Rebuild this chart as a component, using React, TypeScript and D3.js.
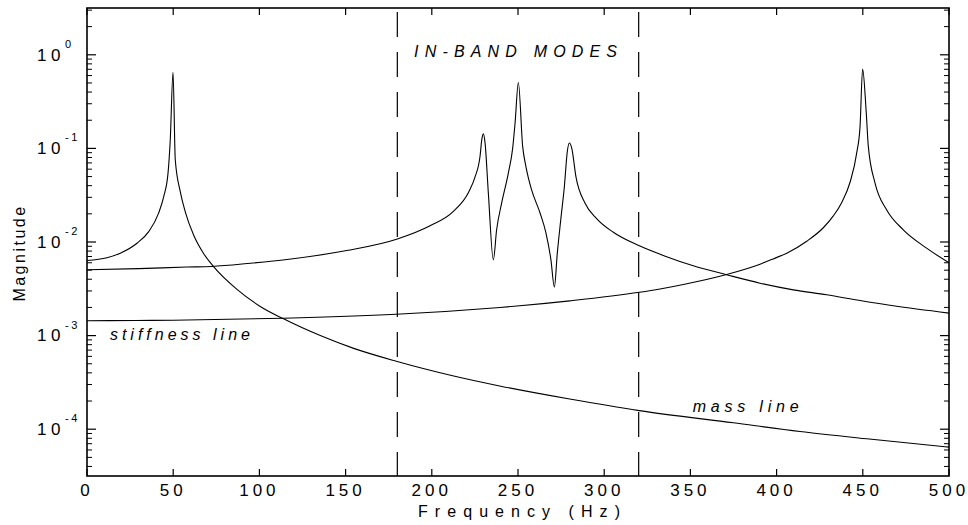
import React from "react";
import * as d3 from "d3";

// ---------- data ----------
const xTickValues = [0, 50, 100, 150, 200, 250, 300, 350, 400, 450, 500];
const yDecadeExponents = [0, -1, -2, -3, -4];
const bandEdges = [180, 320];

// mode at 50 Hz, its tail above resonance is the "mass line"
const mode50Freq = [0, 11.6, 19.3, 29, 35.8, 41.6, 44.5, 47, 48.3, 49.9, 51.2, 54.1, 57, 61.9, 67.7, 73.3, 87, 100.5, 114, 135.3, 154.7, 179.4, 212.7, 240, 280, 320.4, 374.9, 413.6, 452.3, 500];
const mode50Mag = [0.00634, 0.0068, 0.0076, 0.0097, 0.0129, 0.0205, 0.0306, 0.0544, 0.124, 0.65, 0.0755, 0.0345, 0.021, 0.0118, 0.0075, 0.0055, 0.00312, 0.00205, 0.00151, 0.001, 0.00073, 0.000532, 0.00037, 0.000288, 0.00021, 0.000158, 0.000117, 0.0000945, 0.000079, 0.0000644];

// in-band response (modes at ~230, 250, 280 Hz)
const inBandFreq = [0, 30, 58, 72.3, 95, 116, 150.6, 179.6, 199, 212.5, 221.5, 225, 228, 229, 229.9, 230.9, 232.8, 235.7, 237.6, 240.5, 244.4, 246.9, 248.3, 250.2, 252.7, 254.6, 257.9, 262.8, 266.2, 269.1, 271.1, 272.8, 274.8, 276.9, 278.6, 279.8, 281.2, 283.6, 288.9, 295.6, 305.3, 320.4, 335, 351.7, 371, 390.4, 409.7, 429, 448.4, 467.7, 500];
const inBandMag = [0.00505, 0.0052, 0.0054, 0.00548, 0.00594, 0.0065, 0.0081, 0.0107, 0.0149, 0.0212, 0.0345, 0.049, 0.083, 0.124, 0.143, 0.114, 0.0333, 0.00645, 0.0135, 0.026, 0.0545, 0.1, 0.186, 0.506, 0.105, 0.064, 0.036, 0.0204, 0.0125, 0.00645, 0.0033, 0.0076, 0.0173, 0.0392, 0.0927, 0.114, 0.1, 0.05, 0.026, 0.0178, 0.0127, 0.0091, 0.0071, 0.00557, 0.00447, 0.00363, 0.00308, 0.00273, 0.00237, 0.00208, 0.00174];

// mode at 450 Hz, its low-frequency part is the "stiffness line"
const mode450Freq = [0, 28, 50, 114, 179.4, 239.6, 249.4, 280, 320.4, 332.4, 345.9, 371, 390.4, 398, 405.9, 417.5, 427.1, 432.9, 437.8, 442.6, 446.5, 448.4, 449.9, 451.9, 453.2, 457.1, 463.8, 473.5, 487, 500];
const mode450Mag = [0.00144, 0.00145, 0.00146, 0.00153, 0.00169, 0.002, 0.00207, 0.00235, 0.0029, 0.00315, 0.00352, 0.0045, 0.0058, 0.0066, 0.0076, 0.0102, 0.0142, 0.019, 0.0265, 0.0435, 0.09, 0.171, 0.703, 0.258, 0.105, 0.0426, 0.0221, 0.0135, 0.0086, 0.006];

const bandLabel = "IN-BAND MODES";
const stiffnessLabel = "stiffness line";
const massLabel = "mass line";
const xTitle = "Frequency (Hz)";
const yTitle = "Magnitude";

const FONT = "'Liberation Sans', Arial, Helvetica, sans-serif";

export default function App() {
  const W = 968;
  const H = 525;
  const left = 87, right = 949, top = 8, bottom = 476;

  const x = d3.scaleLinear().domain([0, 500]).range([left, right]);
  const y = d3.scaleLog().domain([Math.pow(10, -4.5), Math.pow(10, 0.5)]).range([bottom, top]);

  const line = d3
    .line<[number, number]>()
    .x((d) => x(d[0]))
    .y((d) => y(d[1]))
    .curve(d3.curveMonotoneX);

  const series = [
    d3.zip(mode50Freq, mode50Mag) as [number, number][],
    d3.zip(inBandFreq, inBandMag) as [number, number][],
    d3.zip(mode450Freq, mode450Mag) as [number, number][],
  ];

  // minor ticks 2..9 x 10^k inside domain
  const [d0, d1] = y.domain();
  const minor: number[] = [];
  for (let k = -5; k <= 1; k++) {
    for (let m = 2; m <= 9; m++) {
      const v = m * Math.pow(10, k);
      if (v >= d0 && v <= d1) minor.push(v);
    }
  }

  return (
    <svg
      width={W}
      height={H}
      style={{ position: "absolute", left: 0, top: 0, background: "#fff" }}
      fontFamily={FONT}
    >
      <rect x={0} y={0} width={W} height={H} fill="#fff" />

      {/* curves */}
      {series.map((s, i) => (
        <path key={i} d={line(s) || ""} fill="none" stroke="#000" strokeWidth={1.1} />
      ))}

      {/* band edges */}
      {bandEdges.map((f) => (
        <line
          key={f}
          x1={x(f)}
          x2={x(f)}
          y1={top + 4}
          y2={bottom}
          stroke="#000"
          strokeWidth={1.2}
          strokeDasharray="25 15"
        />
      ))}

      {/* frame */}
      <rect x={left} y={top} width={right - left} height={bottom - top} fill="none" stroke="#000" strokeWidth={1.6} />

      {/* x ticks (bottom & top, inward) */}
      {xTickValues.map((t) => (
        <g key={t}>
          <line x1={x(t)} x2={x(t)} y1={bottom} y2={bottom - 7} stroke="#000" strokeWidth={1.2} />
          <line x1={x(t)} x2={x(t)} y1={top} y2={top + 7} stroke="#000" strokeWidth={1.2} />
          <text x={x(t)} y={496} fontSize={17} letterSpacing={4} textAnchor="middle" fill="#000">
            {t}
          </text>
        </g>
      ))}

      {/* y major ticks */}
      {yDecadeExponents.map((e) => {
        const yy = y(Math.pow(10, e));
        return (
          <g key={e}>
            <line x1={left} x2={left + 9} y1={yy} y2={yy} stroke="#000" strokeWidth={1.2} />
            <line x1={right} x2={right - 9} y1={yy} y2={yy} stroke="#000" strokeWidth={1.2} />
            <text x={37} y={yy + 5.7} fontSize={17} letterSpacing={4.5} fill="#000">
              10
            </text>
            <text x={65} y={yy - 7} fontSize={11} letterSpacing={2.5} fill="#000">
              {String(e)}
            </text>
          </g>
        );
      })}
      {minor.map((v, i) => (
        <g key={i}>
          <line x1={left} x2={left + 5} y1={y(v)} y2={y(v)} stroke="#000" strokeWidth={1} />
          <line x1={right} x2={right - 5} y1={y(v)} y2={y(v)} stroke="#000" strokeWidth={1} />
        </g>
      ))}

      {/* annotations */}
      <text x={x(189.7)} y={y(0.95)} fontSize={16} fontStyle="italic" textLength={203} lengthAdjust="spacing" fill="#000">
        {bandLabel}
      </text>
      <text x={x(13.3)} y={y(8.87e-4)} fontSize={16} fontStyle="italic" textLength={140} lengthAdjust="spacing" fill="#000">
        {stiffnessLabel}
      </text>
      <text x={x(351.3)} y={y(1.51e-4)} fontSize={16} fontStyle="italic" textLength={106} lengthAdjust="spacing" fill="#000">
        {massLabel}
      </text>

      {/* axis titles */}
      <text x={418} y={517} fontSize={16} textLength={202} lengthAdjust="spacing" fill="#000">
        {xTitle}
      </text>
      <text
        transform={`translate(25, ${253}) rotate(-90)`}
        fontSize={16}
        textAnchor="middle"
        letterSpacing={2.5}
        fill="#000"
      >
        {yTitle}
      </text>
    </svg>
  );
}
